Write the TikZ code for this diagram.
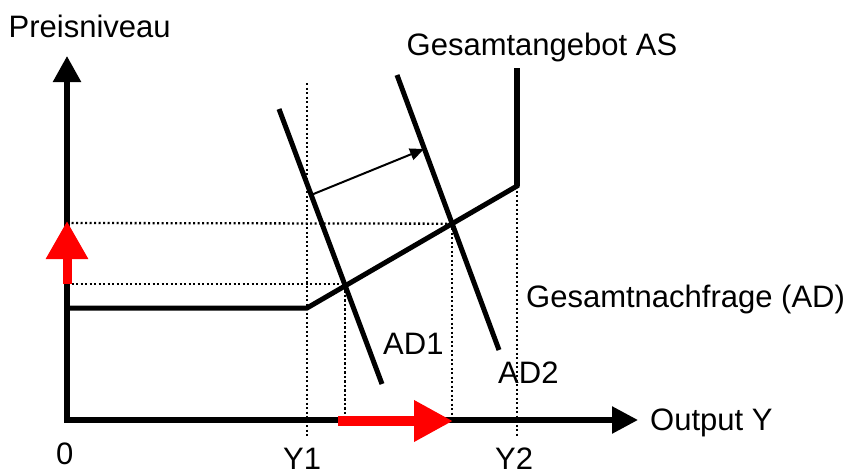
\documentclass[tikz,border=0pt]{standalone}
\usepackage{fontspec}
\setmainfont{Liberation Sans}
\usetikzlibrary{arrows.meta}
\begin{document}
\begin{tikzpicture}[x=1pt,y=-1pt,
  thickline/.style={line width=5pt, line cap=butt, line join=miter},
  dotline/.style={line width=2.3pt, dash pattern=on 2.2pt off 2.3pt},
  axisline/.style={line width=5.5pt, line join=miter},
  shiftarrow/.style={line width=2pt, -{Triangle[length=14pt,width=12pt]}},
  redup/.style={red, line width=9pt, -{Triangle[length=38pt,width=40pt]}},
  redright/.style={red, line width=10pt, -{Triangle[length=39pt,width=39pt]}},
  lbl/.style={anchor=base west, inner sep=0pt, font=\fontsize{31}{37}\selectfont},
]
\useasboundingbox (0,0) rectangle (853,471);
% coordinates
\coordinate (O) at (67,420);
\coordinate (ytip) at (67,56);
\coordinate (xtip) at (638,420);
\coordinate (asL) at (67,308);
\coordinate (asK) at (307,308);
\coordinate (asT) at (517,186);
\coordinate (asTop) at (517,68);
\coordinate (ad1a) at (279,109);
\coordinate (ad1b) at (382,384);
\coordinate (ad2a) at (397,75);
\coordinate (ad2b) at (499,350);
\coordinate (I1) at (intersection of asK--asT and ad1a--ad1b);
\coordinate (I2) at (intersection of asK--asT and ad2a--ad2b);
\coordinate (y1top) at (307,83);
\coordinate (y1bot) at (307,437);
\coordinate (y2bot) at (517,437);
\coordinate (sa) at (311,195);
\coordinate (sb) at (424,149);
% dotted guides
\draw[dotline] (67,223) -- (I2);
\draw[dotline] (67,284) -- (I1 |- 0,284) -- (I1);
\draw[dotline] (y1top) -- (y1bot);
\draw[dotline] (I1) -- (I1 |- O);
\draw[dotline] (I2) -- (I2 |- O);
\draw[dotline] (asT) -- (y2bot);
% axes
\draw[axisline, {Triangle[length=26pt,width=27pt]}-{Triangle[length=26pt,width=26pt]}] (ytip) -- (O) -- (xtip);
% AS curve
\draw[thickline] (asL) -- (asK) -- (asT) -- (asTop);
\draw[line width=6.5pt] (asT) -- (asTop);
% AD curves
\draw[thickline] (ad1a) -- (ad1b);
\draw[thickline] (ad2a) -- (ad2b);
% shift arrow
\draw[shiftarrow] (sa) -- (sb);
% red arrows
\draw[redup] (67,284) -- (67,221);
\draw[redright] (338,421) -- (453,421);
% labels
\node[lbl] (preis) at (8.5,37) {Preisniveau};
\node[lbl] (as) at (406.5,55) {Gesamtangebot AS};
\node[lbl] (ad) at (526,307) {Gesamtnachfrage (AD)};
\node[lbl] (ad1) at (383,354) {AD1};
\node[lbl] (ad2) at (498,383) {AD2};
\node[lbl] (out) at (650,430) {Output Y};
\node[lbl] (zero) at (56,464) {0};
\node[lbl] (y1) at (283,469.5) {Y1};
\node[lbl] (y2) at (495,469.5) {Y2};
\end{tikzpicture}
\end{document}
